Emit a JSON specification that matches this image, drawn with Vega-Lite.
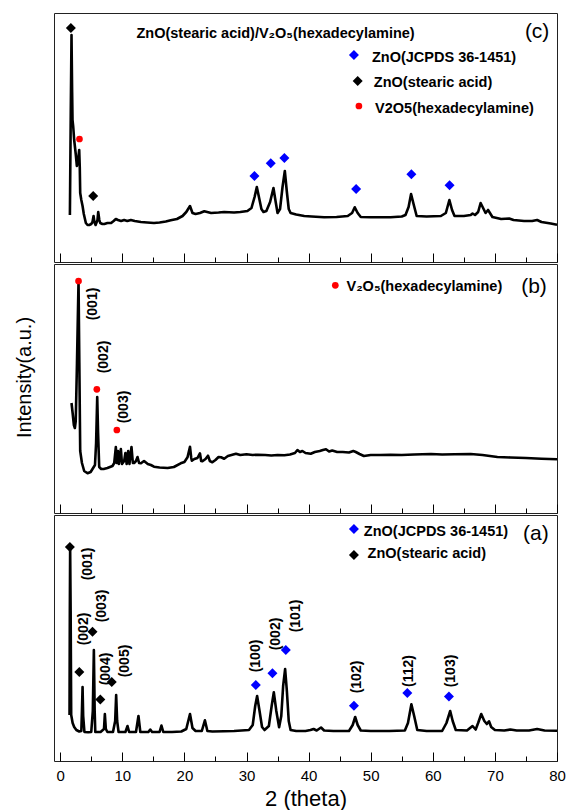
{
  "$schema": "https://vega.github.io/schema/vega-lite/v6.json",
  "padding": {"left": 13, "top": 12, "right": 5, "bottom": 0},
  "spacing": 0,
  "config": {
    "view": {"stroke": "#222222", "strokeWidth": 1},
    "font": "Liberation Sans",
    "concat": {"spacing": 0}
  },
  "datasets": {
    "lc": [
      {"x":1.56,"h":47},{"x":1.7,"h":150},{"x":1.82,"h":227},{"x":1.92,"h":170},{"x":1.98,"h":142},{"x":2.1,"h":135},{"x":2.25,"h":122},{"x":2.5,"h":108},{"x":2.68,"h":96},{"x":2.85,"h":100},{"x":3.06,"h":112},{"x":3.15,"h":95},{"x":3.22,"h":69},{"x":3.4,"h":62},{"x":3.6,"h":56},{"x":3.8,"h":48},{"x":4.13,"h":39},{"x":4.4,"h":37},{"x":4.67,"h":37},{"x":5.0,"h":38},{"x":5.2,"h":40},{"x":5.37,"h":46},{"x":5.5,"h":40},{"x":5.7,"h":37},{"x":6.0,"h":42},{"x":6.12,"h":50},{"x":6.3,"h":42},{"x":6.44,"h":39},{"x":6.8,"h":38},{"x":7.1,"h":38},{"x":7.6,"h":39},{"x":8.2,"h":39},{"x":8.6,"h":41},{"x":8.96,"h":43},{"x":9.3,"h":42},{"x":9.8,"h":41},{"x":10.3,"h":42},{"x":10.8,"h":41},{"x":11.37,"h":42},{"x":12,"h":41},{"x":13,"h":40},{"x":14,"h":39.5},{"x":15.1,"h":39},{"x":16,"h":39.5},{"x":17,"h":40.5},{"x":17.8,"h":41.7},{"x":18.8,"h":43},{"x":19.7,"h":46},{"x":20.3,"h":50},{"x":20.9,"h":56},{"x":21.3,"h":49},{"x":21.8,"h":48},{"x":22.5,"h":49},{"x":23.2,"h":50.7},{"x":24.3,"h":49},{"x":25.5,"h":49.5},{"x":26.4,"h":50},{"x":28,"h":49.5},{"x":29,"h":50},{"x":30.15,"h":51},{"x":30.8,"h":54},{"x":31.3,"h":65},{"x":31.66,"h":75},{"x":32.0,"h":65},{"x":32.4,"h":53},{"x":32.73,"h":50},{"x":33.2,"h":51},{"x":33.8,"h":60},{"x":34.34,"h":74},{"x":34.7,"h":60},{"x":35,"h":49},{"x":35.4,"h":53},{"x":35.8,"h":75},{"x":36.17,"h":91},{"x":36.5,"h":70},{"x":36.8,"h":53},{"x":37.1,"h":49},{"x":38,"h":47.5},{"x":39.3,"h":46},{"x":40.5,"h":45.5},{"x":42.5,"h":44.7},{"x":44.5,"h":45},{"x":46.3,"h":46},{"x":47,"h":49},{"x":47.43,"h":54.7},{"x":47.9,"h":49},{"x":48.4,"h":45},{"x":50,"h":44.7},{"x":53.2,"h":44.7},{"x":55,"h":45.5},{"x":55.6,"h":47},{"x":56.1,"h":55},{"x":56.5,"h":68},{"x":56.9,"h":58},{"x":57.4,"h":46},{"x":59,"h":45.5},{"x":61.3,"h":46},{"x":62.1,"h":49},{"x":62.67,"h":62},{"x":63.1,"h":52},{"x":63.5,"h":46},{"x":65,"h":46},{"x":66.1,"h":47},{"x":66.4,"h":48.5},{"x":66.8,"h":47},{"x":67.3,"h":50},{"x":67.7,"h":59},{"x":68.1,"h":54},{"x":68.5,"h":49},{"x":68.9,"h":52},{"x":69.3,"h":48},{"x":69.6,"h":45},{"x":71,"h":43},{"x":72.3,"h":43.5},{"x":73,"h":42},{"x":74.7,"h":41},{"x":76,"h":41},{"x":76.8,"h":42},{"x":77.5,"h":40},{"x":79,"h":38.5},{"x":80,"h":37.3}
    ],
    "lb": [
      {"x":1.82,"h":110},{"x":2.0,"h":100},{"x":2.2,"h":88},{"x":2.36,"h":85},{"x":2.5,"h":92},{"x":2.7,"h":150},{"x":2.95,"h":232},{"x":3.08,"h":150},{"x":3.22,"h":62},{"x":3.5,"h":50},{"x":3.86,"h":42},{"x":4.4,"h":39.7},{"x":4.9,"h":41},{"x":5.2,"h":44},{"x":5.6,"h":48},{"x":5.78,"h":70},{"x":5.96,"h":116},{"x":6.1,"h":80},{"x":6.28,"h":46},{"x":6.6,"h":44},{"x":7,"h":44},{"x":7.6,"h":45},{"x":8.42,"h":47},{"x":8.7,"h":50},{"x":8.96,"h":66},{"x":9.1,"h":50},{"x":9.3,"h":62},{"x":9.45,"h":49},{"x":9.77,"h":64},{"x":9.95,"h":49},{"x":10.3,"h":52},{"x":10.5,"h":60},{"x":10.7,"h":49},{"x":10.95,"h":62},{"x":11.15,"h":49},{"x":11.48,"h":66},{"x":11.7,"h":50},{"x":11.9,"h":50},{"x":12.2,"h":52},{"x":12.45,"h":56},{"x":12.7,"h":50},{"x":13,"h":49.7},{"x":13.5,"h":52},{"x":14.1,"h":49},{"x":14.6,"h":48},{"x":15.1,"h":46.3},{"x":16,"h":45.5},{"x":17.3,"h":45},{"x":18.3,"h":46},{"x":19.4,"h":49.7},{"x":20,"h":51},{"x":20.5,"h":55.7},{"x":20.9,"h":66.3},{"x":21.1,"h":55},{"x":21.2,"h":52.3},{"x":21.6,"h":54},{"x":22.1,"h":55},{"x":22.5,"h":59.7},{"x":22.7,"h":52},{"x":22.9,"h":51.7},{"x":23.4,"h":54},{"x":23.8,"h":57.3},{"x":24.1,"h":52},{"x":24.5,"h":50.7},{"x":25,"h":53},{"x":25.5,"h":56},{"x":25.9,"h":55.7},{"x":26.4,"h":54.3},{"x":27,"h":57},{"x":28.3,"h":59.3},{"x":29,"h":58},{"x":30,"h":58.7},{"x":31,"h":58},{"x":31.8,"h":58.3},{"x":33,"h":58},{"x":34,"h":57.5},{"x":35,"h":58},{"x":36.1,"h":57.7},{"x":37,"h":58.5},{"x":37.8,"h":60},{"x":38.2,"h":63},{"x":38.6,"h":61},{"x":39,"h":62},{"x":39.5,"h":60},{"x":40.35,"h":59.3},{"x":41,"h":61},{"x":41.8,"h":62},{"x":42.3,"h":63},{"x":42.8,"h":63.7},{"x":43.3,"h":61.5},{"x":43.8,"h":62.5},{"x":44.6,"h":61},{"x":45.5,"h":61},{"x":46.5,"h":60.5},{"x":47.2,"h":62},{"x":47.6,"h":61},{"x":48.2,"h":59},{"x":48.9,"h":57},{"x":50,"h":58},{"x":51.5,"h":58},{"x":53.2,"h":58.3},{"x":55,"h":58},{"x":57,"h":58.5},{"x":59.7,"h":59},{"x":61.5,"h":58.5},{"x":63.5,"h":58.8},{"x":66.1,"h":59},{"x":68,"h":58},{"x":70.4,"h":56},{"x":72.5,"h":55.5},{"x":75,"h":55},{"x":77.5,"h":54.3},{"x":80,"h":53.7}
    ],
    "la": [
      {"x":1.5,"h":46},{"x":1.55,"h":150},{"x":1.6,"h":213},{"x":1.68,"h":150},{"x":1.77,"h":46},{"x":2.0,"h":38},{"x":2.25,"h":34},{"x":2.6,"h":31},{"x":3.06,"h":29.5},{"x":3.4,"h":30},{"x":3.5,"h":50},{"x":3.6,"h":74},{"x":3.7,"h":45},{"x":3.9,"h":29},{"x":4.5,"h":28.7},{"x":5.0,"h":29},{"x":5.25,"h":50},{"x":5.42,"h":111},{"x":5.55,"h":50},{"x":5.65,"h":29},{"x":6.5,"h":29},{"x":7.05,"h":32},{"x":7.19,"h":47},{"x":7.35,"h":32},{"x":7.6,"h":29},{"x":8.5,"h":29},{"x":8.85,"h":40},{"x":9.01,"h":66},{"x":9.17,"h":40},{"x":9.4,"h":29},{"x":10.5,"h":29},{"x":10.84,"h":35},{"x":11.1,"h":29},{"x":12.2,"h":29},{"x":12.6,"h":45},{"x":12.9,"h":29},{"x":14.2,"h":29},{"x":14.5,"h":31.5},{"x":14.8,"h":29},{"x":16,"h":29},{"x":16.3,"h":35.5},{"x":16.6,"h":29},{"x":18,"h":29},{"x":19.5,"h":29.5},{"x":20.3,"h":32},{"x":20.9,"h":47},{"x":21.3,"h":33},{"x":21.8,"h":30},{"x":22.8,"h":30},{"x":23.3,"h":40.7},{"x":23.7,"h":30},{"x":24.5,"h":29.5},{"x":26.4,"h":29.7},{"x":28,"h":30},{"x":30.4,"h":31},{"x":31.0,"h":36},{"x":31.4,"h":55},{"x":31.71,"h":65},{"x":32.1,"h":50},{"x":32.5,"h":34},{"x":32.9,"h":31},{"x":33.6,"h":35},{"x":34.05,"h":55},{"x":34.4,"h":68.7},{"x":34.8,"h":50},{"x":35.25,"h":33.7},{"x":35.6,"h":45},{"x":35.9,"h":75},{"x":36.22,"h":92},{"x":36.5,"h":70},{"x":36.8,"h":40},{"x":37.1,"h":31},{"x":38,"h":30},{"x":39.5,"h":30},{"x":40.3,"h":31},{"x":40.8,"h":32},{"x":41.3,"h":30.5},{"x":42,"h":33.5},{"x":42.5,"h":30.5},{"x":44,"h":30},{"x":46.5,"h":30},{"x":47.1,"h":36},{"x":47.5,"h":44},{"x":47.9,"h":36},{"x":48.4,"h":30.5},{"x":50,"h":30},{"x":53,"h":30},{"x":55.5,"h":30.5},{"x":56.0,"h":38},{"x":56.55,"h":56.7},{"x":57.0,"h":45},{"x":57.5,"h":31},{"x":59,"h":30},{"x":61.5,"h":30},{"x":62.2,"h":38},{"x":62.8,"h":50},{"x":63.2,"h":40},{"x":63.7,"h":31},{"x":65.5,"h":30.5},{"x":66.4,"h":35},{"x":66.9,"h":31.5},{"x":67.3,"h":38},{"x":67.8,"h":47},{"x":68.3,"h":40},{"x":68.7,"h":37},{"x":69.05,"h":39.7},{"x":69.4,"h":34},{"x":70,"h":31},{"x":71.5,"h":30.5},{"x":72.5,"h":31.5},{"x":73.5,"h":30.5},{"x":75.5,"h":30.5},{"x":76.8,"h":32},{"x":78,"h":30.5},{"x":80,"h":30.3}
    ],
    "mk": [
      {"p":"c","k":"black","x":1.72,"h":234},{"p":"c","k":"black","x":5.31,"h":66},{"p":"c","k":"red","x":3.1,"h":123},
      {"p":"c","k":"blue","x":31.28,"h":86},{"p":"c","k":"blue","x":33.9,"h":98.7},{"p":"c","k":"blue","x":36.1,"h":104},{"p":"c","k":"blue","x":47.65,"h":73},{"p":"c","k":"blue","x":56.55,"h":87.7},{"p":"c","k":"blue","x":62.7,"h":76.7},
      {"p":"c","k":"blue","x":47.3,"h":207},{"p":"c","k":"black","x":47.9,"h":181},{"p":"c","k":"red","x":48.1,"h":156},
      {"p":"b","k":"red","x":2.95,"h":232},{"p":"b","k":"red","x":5.9,"h":123.7},{"p":"b","k":"red","x":9.12,"h":83},{"p":"b","k":"red","x":44.3,"h":227.7},
      {"p":"a","k":"black","x":1.56,"h":214},{"p":"a","k":"black","x":3.08,"h":89},{"p":"a","k":"black","x":5.2,"h":129.3},{"p":"a","k":"black","x":6.46,"h":61.5},{"p":"a","k":"black","x":8.3,"h":79},
      {"p":"a","k":"blue","x":31.5,"h":76},{"p":"a","k":"blue","x":34.18,"h":87.7},{"p":"a","k":"blue","x":36.33,"h":111},{"p":"a","k":"blue","x":47.3,"h":55.3},{"p":"a","k":"blue","x":55.9,"h":68},{"p":"a","k":"blue","x":62.6,"h":64.5},
      {"p":"a","k":"blue","x":47.3,"h":232},{"p":"a","k":"black","x":47.3,"h":206}
    ],
    "tx": [
      {"p":"c","k":"title","x":12.28,"h":228.5,"t":"ZnO(stearic acid)/V₂O₅(hexadecylamine)"},
      {"p":"c","k":"tag","x":76.8,"h":230,"t":"(c)"},
      {"p":"c","k":"leg","x":50.2,"h":204,"t":"ZnO(JCPDS 36-1451)"},
      {"p":"c","k":"leg","x":50.5,"h":179,"t":"ZnO(stearic acid)"},
      {"p":"c","k":"leg","x":50.7,"h":153,"t":"V2O5(hexadecylamine)"},
      {"p":"b","k":"leg","x":46.1,"h":226,"t":"V₂O₅(hexadecylamine)"},
      {"p":"b","k":"tag","x":76.3,"h":226,"t":"(b)"},
      {"p":"b","k":"rot","x":5.2,"h":209,"t":"(001)"},
      {"p":"b","k":"rot","x":7.08,"h":156,"t":"(002)"},
      {"p":"b","k":"rot","x":10.3,"h":106,"t":"(003)"},
      {"p":"a","k":"leg","x":48.9,"h":229.3,"t":"ZnO(JCPDS 36-1451)"},
      {"p":"a","k":"leg","x":49.5,"h":207,"t":"ZnO(stearic acid)"},
      {"p":"a","k":"tag","x":76.6,"h":227,"t":"(a)"},
      {"p":"a","k":"rot","x":4.4,"h":197,"t":"(001)"},
      {"p":"a","k":"rot","x":3.8,"h":132,"t":"(002)"},
      {"p":"a","k":"rot","x":6.8,"h":155,"t":"(003)"},
      {"p":"a","k":"rot","x":7.45,"h":92,"t":"(004)"},
      {"p":"a","k":"rot","x":10.46,"h":100,"t":"(005)"},
      {"p":"a","k":"rot","x":31.5,"h":105,"t":"(100)"},
      {"p":"a","k":"rot","x":34.7,"h":127,"t":"(002)"},
      {"p":"a","k":"rot","x":38.04,"h":145,"t":"(101)"},
      {"p":"a","k":"rot","x":47.86,"h":84,"t":"(102)"},
      {"p":"a","k":"rot","x":56.2,"h":90,"t":"(112)"},
      {"p":"a","k":"rot","x":62.9,"h":90,"t":"(103)"}
    ]
  },
  "vconcat": [
    {
      "width": 503, "height": 249,
      "encoding": {
        "x": {"field": "x", "type": "quantitative", "scale": {"domain": [-1, 80], "nice": false, "zero": false},
          "axis": {"values": [0,5,10,15,20,25,30,35,40,45,50,55,60,65,70,75,80], "labels": false, "title": null, "domain": false, "grid": false, "tickColor": "black", "tickWidth": 1,
            "tickSize": {"condition": {"test": "datum.value % 10 === 0", "value": -9}, "value": -5}}},
        "y": {"field": "h", "type": "quantitative", "scale": {"domain": [0, 249], "nice": false, "zero": false}, "axis": null}
      },
      "layer": [
        {"data": {"name": "lc"}, "mark": {"type": "line", "color": "black", "strokeWidth": 2.6, "strokeJoin": "round"}},
        {"data": {"name": "mk"}, "transform": [{"filter": "datum.p == 'c' && datum.k == 'blue'"}], "mark": {"type": "point", "shape": "diamond", "filled": true, "color": "#0000ff", "size": 100, "opacity": 1}},
        {"data": {"name": "mk"}, "transform": [{"filter": "datum.p == 'c' && datum.k == 'black'"}], "mark": {"type": "point", "shape": "diamond", "filled": true, "color": "black", "size": 100, "opacity": 1}},
        {"data": {"name": "mk"}, "transform": [{"filter": "datum.p == 'c' && datum.k == 'red'"}], "mark": {"type": "point", "shape": "circle", "filled": true, "color": "#ff0000", "size": 45, "opacity": 1}},
        {"data": {"name": "tx"}, "transform": [{"filter": "datum.p == 'c' && datum.k == 'title'"}], "mark": {"type": "text", "align": "left", "baseline": "middle", "fontWeight": "bold", "fontSize": 14.5, "color": "black"}, "encoding": {"text": {"field": "t"}}},
        {"data": {"name": "tx"}, "transform": [{"filter": "datum.p == 'c' && datum.k == 'leg'"}], "mark": {"type": "text", "align": "left", "baseline": "middle", "fontWeight": "bold", "fontSize": 14.5, "color": "black"}, "encoding": {"text": {"field": "t"}}},
        {"data": {"name": "tx"}, "transform": [{"filter": "datum.p == 'c' && datum.k == 'tag'"}], "mark": {"type": "text", "align": "center", "baseline": "middle", "fontSize": 21, "color": "black"}, "encoding": {"text": {"field": "t"}}}
      ]
    },
    {
      "width": 503, "height": 249,
      "encoding": {
        "x": {"field": "x", "type": "quantitative", "scale": {"domain": [-1, 80], "nice": false, "zero": false},
          "axis": {"values": [0,5,10,15,20,25,30,35,40,45,50,55,60,65,70,75,80], "labels": false, "title": null, "domain": false, "grid": false, "tickColor": "black", "tickWidth": 1,
            "tickSize": {"condition": {"test": "datum.value % 10 === 0", "value": -9}, "value": -5}}},
        "y": {"field": "h", "type": "quantitative", "scale": {"domain": [0, 249], "nice": false, "zero": false},
          "axis": {"title": "Intensity(a.u.)", "labels": false, "ticks": false, "domain": false, "grid": false, "titleFont": "Liberation Sans", "titleFontSize": 20, "titleFontWeight": "normal", "titleColor": "black", "titleAngle": 270, "titleAlign": "center", "titleBaseline": "middle", "titleX": -30, "titleY": 113}}
      },
      "layer": [
        {"data": {"name": "lb"}, "mark": {"type": "line", "color": "black", "strokeWidth": 2.6, "strokeJoin": "round"}},
        {"data": {"name": "mk"}, "transform": [{"filter": "datum.p == 'b' && datum.k == 'red'"}], "mark": {"type": "point", "shape": "circle", "filled": true, "color": "#ff0000", "size": 45, "opacity": 1}},
        {"data": {"name": "tx"}, "transform": [{"filter": "datum.p == 'b' && datum.k == 'leg'"}], "mark": {"type": "text", "align": "left", "baseline": "middle", "fontWeight": "bold", "fontSize": 14.5, "color": "black"}, "encoding": {"text": {"field": "t"}}},
        {"data": {"name": "tx"}, "transform": [{"filter": "datum.p == 'b' && datum.k == 'tag'"}], "mark": {"type": "text", "align": "center", "baseline": "middle", "fontSize": 21, "color": "black"}, "encoding": {"text": {"field": "t"}}},
        {"data": {"name": "tx"}, "transform": [{"filter": "datum.p == 'b' && datum.k == 'rot'"}], "mark": {"type": "text", "align": "center", "baseline": "middle", "angle": 270, "fontWeight": "bold", "fontSize": 14, "color": "black"}, "encoding": {"text": {"field": "t"}}}
      ]
    },
    {
      "width": 503, "height": 246,
      "encoding": {
        "x": {"field": "x", "type": "quantitative", "scale": {"domain": [-1, 80], "nice": false, "zero": false},
          "axis": {"values": [0,5,10,15,20,25,30,35,40,45,50,55,60,65,70,75,80], "labelExpr": "datum.value % 10 === 0 ? datum.label : ''", "title": "2 (theta)", "domain": false, "grid": false, "tickColor": "black", "tickWidth": 1,
            "tickSize": {"condition": {"test": "datum.value % 10 === 0", "value": -9}, "value": -5},
            "labelFont": "Liberation Sans", "labelFontSize": 15, "labelColor": "black", "labelPadding": 16, "labelFlush": false,
            "titleFont": "Liberation Sans", "titleFontSize": 22, "titleFontWeight": "normal", "titleColor": "black", "titlePadding": 5}},
        "y": {"field": "h", "type": "quantitative", "scale": {"domain": [0, 246], "nice": false, "zero": false}, "axis": null}
      },
      "layer": [
        {"data": {"name": "la"}, "mark": {"type": "line", "color": "black", "strokeWidth": 2.6, "strokeJoin": "round"}},
        {"data": {"name": "mk"}, "transform": [{"filter": "datum.p == 'a' && datum.k == 'blue'"}], "mark": {"type": "point", "shape": "diamond", "filled": true, "color": "#0000ff", "size": 100, "opacity": 1}},
        {"data": {"name": "mk"}, "transform": [{"filter": "datum.p == 'a' && datum.k == 'black'"}], "mark": {"type": "point", "shape": "diamond", "filled": true, "color": "black", "size": 100, "opacity": 1}},
        {"data": {"name": "tx"}, "transform": [{"filter": "datum.p == 'a' && datum.k == 'leg'"}], "mark": {"type": "text", "align": "left", "baseline": "middle", "fontWeight": "bold", "fontSize": 14.5, "color": "black"}, "encoding": {"text": {"field": "t"}}},
        {"data": {"name": "tx"}, "transform": [{"filter": "datum.p == 'a' && datum.k == 'tag'"}], "mark": {"type": "text", "align": "center", "baseline": "middle", "fontSize": 21, "color": "black"}, "encoding": {"text": {"field": "t"}}},
        {"data": {"name": "tx"}, "transform": [{"filter": "datum.p == 'a' && datum.k == 'rot'"}], "mark": {"type": "text", "align": "center", "baseline": "middle", "angle": 270, "fontWeight": "bold", "fontSize": 14, "color": "black"}, "encoding": {"text": {"field": "t"}}}
      ]
    }
  ]
}
